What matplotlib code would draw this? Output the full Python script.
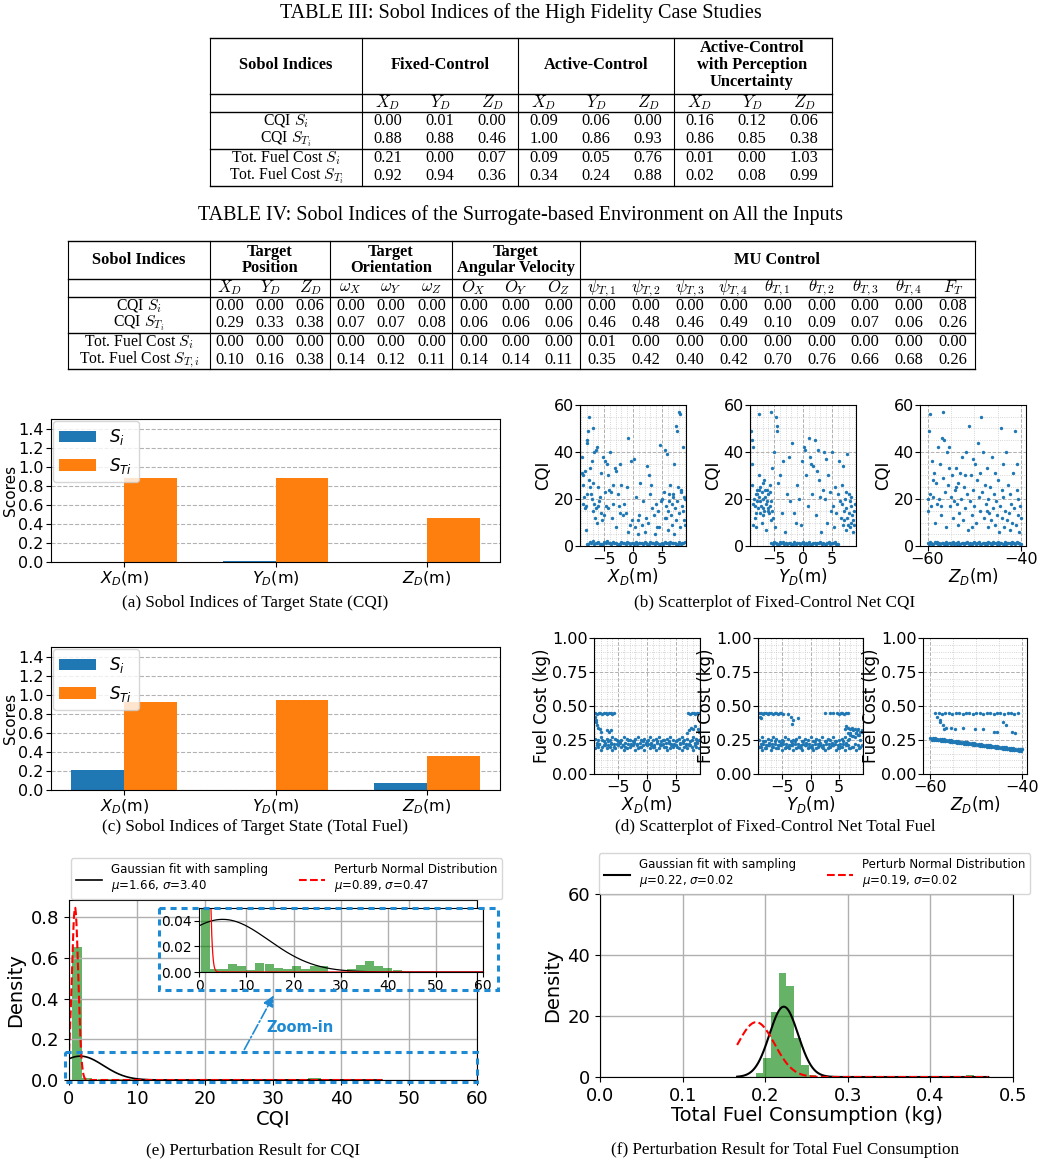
import numpy as np
import matplotlib
matplotlib.use("Agg")
import matplotlib.pyplot as plt
from matplotlib.patches import Rectangle
from matplotlib.ticker import AutoMinorLocator

plt.rcParams['font.family'] = 'DejaVu Sans'
SERIF = 'Liberation Serif'
W, H = 1042, 1165
nan = np.nan

# ---------------- table data ----------------
t3_groups = ['Fixed-Control', 'Active-Control', 'Active-Control\nwith Perception\nUncertainty']
t3_sub = ['$X_D$', '$Y_D$', '$Z_D$'] * 3
t3_rows = ['CQI $S_i$', 'CQI $S_{T_i}$', 'Tot. Fuel Cost $S_i$', 'Tot. Fuel Cost $S_{T_i}$']
t3_vals = [
    [0.00, 0.01, 0.00, 0.09, 0.06, 0.00, 0.16, 0.12, 0.06],
    [0.88, 0.88, 0.46, 1.00, 0.86, 0.93, 0.86, 0.85, 0.38],
    [0.21, 0.00, 0.07, 0.09, 0.05, 0.76, 0.01, 0.00, 1.03],
    [0.92, 0.94, 0.36, 0.34, 0.24, 0.88, 0.02, 0.08, 0.99],
]

t4_groups = ['Target\nPosition', 'Target\nOrientation', 'Target\nAngular Velocity', 'MU Control']
t4_sub = ['$X_D$', '$Y_D$', '$Z_D$', r'$\omega_X$', r'$\omega_Y$', r'$\omega_Z$',
          '$O_X$', '$O_Y$', '$O_Z$',
          r'$\psi_{T,1}$', r'$\psi_{T,2}$', r'$\psi_{T,3}$', r'$\psi_{T,4}$',
          r'$\theta_{T,1}$', r'$\theta_{T,2}$', r'$\theta_{T,3}$', r'$\theta_{T,4}$', '$F_T$']
t4_rows = ['CQI $S_i$', 'CQI $S_{T_i}$', 'Tot. Fuel Cost $S_i$', 'Tot. Fuel Cost $S_{T,i}$']
t4_vals = [
    [0.00, 0.00, 0.06, 0.00, 0.00, 0.00, 0.00, 0.00, 0.00, 0.00, 0.00, 0.00, 0.00, 0.00, 0.00, 0.00, 0.00, 0.08],
    [0.29, 0.33, 0.38, 0.07, 0.07, 0.08, 0.06, 0.06, 0.06, 0.46, 0.48, 0.46, 0.49, 0.10, 0.09, 0.07, 0.06, 0.26],
    [0.00, 0.00, 0.00, 0.00, 0.00, 0.00, 0.00, 0.00, 0.00, 0.01, 0.00, 0.00, 0.00, 0.00, 0.00, 0.00, 0.00, 0.00],
    [0.10, 0.16, 0.38, 0.14, 0.12, 0.11, 0.14, 0.14, 0.11, 0.35, 0.42, 0.40, 0.42, 0.70, 0.76, 0.66, 0.68, 0.26],
]

# ---------------- bar chart data ----------------
state_labels = ['$X_D$(m)', '$Y_D$(m)', '$Z_D$(m)']
cqi_si = [0.00, 0.01, 0.00]
cqi_sti = [0.88, 0.88, 0.46]
fuel_si = [0.21, 0.00, 0.07]
fuel_sti = [0.92, 0.94, 0.36]

# ---------------- scatter data ----------------
# sampled positions used by the dense bands
GX_A = [-9.0, -8.5, -8.0, -7.5, -7.0, -6.5, -6.0, -5.5, -5.0, -4.5, -4.0, -3.5, -3.0, -2.5, -2.0, -1.5, -1.0, -0.5,
        0.0, 0.5, 1.0, 1.5, 2.0, 2.5, 3.0, 3.5, 4.0, 4.5, 5.0, 5.5, 6.0, 6.5, 7.0, 7.5, 8.0, 8.5, 9.0]
GX_B = [-8.75, -8.25, -7.75, -7.25, -6.75, -6.25, -5.75, -5.25, -4.75, -4.25, -3.75, -3.25, -2.75, -2.25, -1.75, -1.25,
        -0.75, -0.25, 0.25, 0.75, 1.25, 1.75, 2.25, 2.75, 3.25, 3.75, 4.25, 4.75, 5.25, 5.75, 6.25, 6.75, 7.25, 7.75,
        8.25, 8.75]
GZ_A = [-60.0, -59.5, -59.0, -58.5, -58.0, -57.5, -57.0, -56.5, -56.0, -55.5, -55.0, -54.5, -54.0, -53.5, -53.0, -52.5,
        -52.0, -51.5, -51.0, -50.5, -50.0, -49.5, -49.0, -48.5, -48.0, -47.5, -47.0, -46.5, -46.0, -45.5, -45.0, -44.5,
        -44.0, -43.5, -43.0, -42.5, -42.0, -41.5, -41.0, -40.5, -40.0]
GZ_B = [-59.75, -59.25, -58.75, -58.25, -57.75, -57.25, -56.75, -56.25, -55.75, -55.25, -54.75, -54.25, -53.75, -53.25,
        -52.75, -52.25, -51.75, -51.25, -50.75, -50.25, -49.75, -49.25, -48.75, -48.25, -47.75, -47.25, -46.75, -46.25,
        -45.75, -45.25, -44.75, -44.25, -43.75, -43.25, -42.75, -42.25, -41.75, -41.25, -40.75, -40.25]

# (b) CQI vs X_D
cqi_x_pts = [(-8.9, 38), (-8.8, 31), (-8.7, 18), (-8.6, 30), (-8.5, 21), (-8.4, 32), (-8.3, 16), (-8.2, 7), (-8.1, 17),
             (-8.0, 45), (-7.9, 44), (-7.8, 49), (-7.7, 55), (-7.6, 28), (-7.5, 25), (-7.4, 33), (-7.3, 22), (-7.2, 36),
             (-7.1, 20), (-7.0, 50), (-6.9, 15), (-6.8, 40), (-6.7, 18), (-6.6, 12), (-6.5, 41), (-6.4, 16), (-6.3, 10),
             (-6.2, 42), (-6.1, 17), (-6.0, 25), (-5.8, 21), (-5.6, 14), (-5.5, 31), (-5.3, 11), (-5.2, 38), (-5.0, 13),
             (-4.9, 36), (-4.7, 17), (-4.6, 35), (-4.4, 16), (-4.3, 30), (-4.1, 24), (-4.0, 40), (-3.8, 23), (-3.6, 12),
             (-3.5, 18), (-3.2, 33), (-3.0, 8), (-2.9, 32), (-2.6, 22), (-2.5, 17), (-2.3, 35), (-2.0, 26), (-1.8, 13),
             (-1.5, 18), (-1.3, 14), (-1.1, 25), (-0.8, 46), (-0.5, 9), (-0.3, 36), (-0.1, 11), (0.2, 37), (0.4, 8),
             (0.6, 21), (0.9, 11), (1.1, 13), (1.3, 27), (1.6, 9), (1.8, 19), (2.0, 6), (2.2, 12), (2.4, 34), (2.7, 30),
             (2.9, 22), (3.1, 26), (3.3, 16), (3.6, 13), (3.8, 5), (4.0, 18), (4.3, 15), (4.5, 8), (4.7, 43), (4.9, 19),
             (5.1, 20), (5.3, 23), (5.5, 41), (5.7, 12), (5.9, 39), (6.1, 15), (6.3, 22), (6.5, 26), (6.7, 18), (6.9, 21),
             (7.1, 35), (7.3, 16), (7.5, 51), (7.7, 49), (7.8, 25), (7.9, 57), (8.1, 56), (8.3, 23), (8.5, 17), (8.6, 42),
             (8.8, 21), (8.9, 11), (9.0, 20), (-8.7, 26), (-7.9, 22), (-6.9, 27), (-5.9, 19), (-4.8, 23), (-3.4, 26),
             (-2.2, 14), (-0.9, 6), (0.8, 5), (2.6, 10), (4.2, 8), (5.6, 12), (6.8, 9), (8.2, 8), (5.8, 17), (6.2, 19),
             (6.6, 13), (7.0, 22), (7.4, 11), (7.6, 19), (8.0, 14), (8.4, 24), (8.7, 15), (9.0, 9), (6.0, 7), (7.2, 5)]
cqi_x_band_a = [nan, nan, 1.0, 1.6, 2.0, 1.2, 1.8, 1.0, 1.5, 2.0, 1.1, 1.7, 1.3, 0.9, 1.6, 1.2, 1.9, 1.0, 1.4, 1.7,
                1.1, 1.3, 1.8, 0.9, 1.5, 1.2, 1.7, 1.0, 1.4, 1.9, 1.1, 1.6, 1.2, 1.0, 1.7, 1.3, 1.5]
cqi_x_band_b = [nan, nan, 0.9, 1.3, 0.8, 1.2, 1.0, 0.8, 1.3, 1.1, 0.8, 1.4, 1.0, 0.9, 1.2, 0.8, 1.1, 1.3,
                0.9, 0.8, 1.2, 1.0, 1.4, 0.8, 1.1, 0.9, 1.3, 1.0, 0.8, 1.2, 0.9, 1.1, 1.4, 0.8, 1.0, 1.2]

# (b) CQI vs Y_D
cqi_y_pts = [(-9.0, 49), (-8.9, 26), (-8.8, 45), (-8.7, 18), (-8.6, 42), (-8.5, 20), (-8.4, 12), (-8.3, 17), (-8.2, 22),
             (-8.1, 8), (-8.0, 19), (-7.9, 22), (-7.8, 16), (-7.7, 21), (-7.6, 30), (-7.5, 14), (-7.4, 25), (-7.3, 17),
             (-7.2, 10), (-7.1, 23), (-7.0, 13), (-6.9, 20), (-6.8, 28), (-6.7, 15), (-6.6, 24), (-6.5, 18), (-6.4, 7),
             (-6.3, 19), (-6.2, 24), (-6.1, 16), (-7.6, 56), (-5.6, 57), (-4.7, 55), (-6.0, 22), (-5.9, 14), (-5.8, 17),
             (-5.7, 26), (-5.6, 11), (-5.5, 19), (-5.4, 33), (-5.3, 15), (-5.0, 40), (-4.8, 8), (-4.6, 51), (-4.5, 49),
             (-4.3, 27), (-4.0, 30), (-3.7, 14), (-3.4, 36), (-3.1, 6), (-2.8, 22), (-2.5, 38), (-2.2, 19), (-1.9, 44),
             (-1.6, 14), (-1.3, 10), (-1.0, 26), (-0.7, 20), (-0.4, 9), (-0.1, 36), (0.2, 42), (0.4, 41), (0.6, 30),
             (0.8, 17), (1.0, 46), (1.2, 38), (1.4, 35), (1.6, 22), (1.8, 34), (2.0, 45), (2.2, 13), (2.4, 32), (2.6, 41),
             (2.8, 28), (3.0, 21), (3.2, 6), (3.4, 24), (3.6, 40), (3.8, 20), (4.0, 37), (4.2, 10), (4.4, 30), (4.6, 23),
             (4.8, 15), (5.0, 40), (5.2, 17), (5.4, 8), (5.6, 25), (5.8, 14), (6.0, 22), (6.2, 36), (6.4, 19), (6.6, 12),
             (6.7, 26), (6.8, 18), (6.9, 9), (7.0, 34), (7.1, 15), (7.2, 11), (7.3, 20), (7.4, 7), (7.5, 16), (7.6, 39),
             (7.7, 12), (7.8, 9), (7.9, 22), (8.0, 14), (8.1, 8), (8.2, 19), (8.3, 10), (8.4, 17), (8.5, 13), (8.6, 6),
             (8.7, 11), (8.8, 15), (8.9, 9), (9.0, 18), (-8.8, 35), (-7.6, 24), (-6.9, 27), (-5.2, 12), (7.5, 23),
             (8.3, 21), (-8.6, 9), (-8.0, 24), (-7.4, 19), (-7.0, 16), (-6.6, 21), (-6.0, 15), (-5.8, 23), (-8.2, 14)]
cqi_y_band_a = [nan, nan, nan, nan, nan, nan, nan, 1.2, 1.8, 1.0, 1.5, 1.9, 1.1, 1.4, 0.9, 1.7, 1.2, 1.0, 1.6, 1.3,
                1.8, 1.0, 1.4, 1.1, 1.7, 1.2, 0.9, 1.5, 1.3, 1.9, 1.0, nan, nan, nan, nan, nan, nan]
cqi_y_band_b = [nan, nan, nan, nan, nan, nan, nan, 0.8, 1.1, 0.9, 1.3, 0.8, 1.0, 1.2, 0.9, 0.8, 1.3, 1.1, 0.8, 1.0,
                0.9, 1.2, 0.8, 1.3, 0.9, 1.0, 1.2, 0.8, 1.1, 0.9, nan, nan, nan, nan, nan, nan]

# (b) CQI vs Z_D
cqi_z_pts = [(-60.0, 15), (-59.8, 20), (-59.6, 49), (-59.5, 56), (-59.4, 22), (-59.2, 17), (-59.0, 36), (-58.8, 21),
             (-58.6, 31), (-58.4, 10), (-58.2, 27), (-58.0, 18), (-57.8, 42), (-57.6, 20), (-57.4, 35), (-57.2, 13),
             (-57.0, 46), (-56.8, 29), (-56.6, 57), (-56.4, 45), (-56.2, 23), (-56.0, 8), (-55.8, 40), (-55.6, 26),
             (-55.4, 42), (-55.2, 17), (-55.0, 21), (-54.8, 30), (-54.6, 12), (-54.4, 19), (-54.2, 24), (-54.0, 33),
             (-53.8, 18), (-53.6, 9), (-53.4, 27), (-53.2, 14), (-53.0, 31), (-52.8, 20), (-52.6, 38), (-52.4, 11),
             (-52.2, 25), (-52.0, 16), (-51.8, 40), (-51.6, 22), (-51.4, 7), (-51.2, 51), (-51.0, 19), (-50.8, 30),
             (-50.6, 13), (-50.4, 37), (-50.2, 24), (-50.0, 17), (-49.8, 35), (-49.6, 10), (-49.4, 28), (-49.2, 44),
             (-49.0, 21), (-48.8, 15), (-48.6, 55), (-48.4, 23), (-48.2, 40), (-48.0, 12), (-47.8, 26), (-47.6, 18),
             (-47.4, 33), (-47.2, 8), (-47.0, 20), (-46.8, 14), (-46.6, 25), (-46.4, 11), (-46.2, 38), (-46.0, 16),
             (-45.8, 22), (-45.6, 9), (-45.4, 19), (-45.2, 13), (-45.0, 28), (-44.8, 6), (-44.6, 17), (-44.4, 50),
             (-44.2, 12), (-44.0, 35), (-43.8, 21), (-43.6, 8), (-43.4, 15), (-43.2, 40), (-43.0, 11), (-42.8, 26),
             (-42.6, 14), (-42.4, 7), (-42.2, 18), (-42.0, 10), (-41.8, 31), (-41.6, 16), (-41.4, 49), (-41.2, 9),
             (-41.0, 24), (-40.8, 13), (-40.6, 20), (-40.4, 6), (-40.2, 17), (-40.0, 12), (-58.9, 28), (-57.1, 17),
             (-55.5, 33), (-53.9, 25), (-52.1, 30), (-50.5, 8), (-48.9, 31), (-47.3, 15), (-45.7, 31), (-44.1, 24),
             (-42.5, 22), (-40.9, 35)]
cqi_z_band_a = [1.2, 1.8, 1.0, 1.5, 1.9, 1.1, 1.4, 0.9, 1.7, 1.2, 1.0, 1.6, 1.3, 1.8, 1.0, 1.4, 1.1, 1.7, 1.2, 0.9,
                1.5, 1.3, 1.9, 1.0, 1.4, 1.2, 1.7, 1.0, 1.5, 1.1, 1.8, 1.3, 1.0, 1.6, 1.2, 1.4, 1.9, 1.1, 1.5, 1.3, 1.0]
cqi_z_band_b = [0.8, 1.1, 0.9, 1.3, 0.8, 1.0, 1.2, 0.9, 0.8, 1.3, 1.1, 0.8, 1.0, 0.9, 1.2, 0.8, 1.3, 0.9, 1.0, 1.2,
                0.8, 1.1, 0.9, 1.3, 0.8, 1.0, 1.1, 0.9, 1.2, 0.8, 1.0, 1.3, 0.9, 0.8, 1.1, 1.0, 1.2, 0.9, 1.1, 0.8]

# (d) fuel vs X_D
fuel_x_pts = [(-9.0, 0.45), (-8.7, 0.44), (-8.4, 0.45), (-8.1, 0.45), (-7.8, 0.44), (-7.5, 0.45), (-7.2, 0.45),
              (-6.9, 0.44), (-6.6, 0.45), (-6.3, 0.45), (-6.0, 0.44), (-5.7, 0.45), (7.2, 0.45), (7.5, 0.44),
              (7.8, 0.45), (8.1, 0.45), (8.4, 0.44), (8.7, 0.45), (9.0, 0.45), (-9.0, 0.42), (-8.9, 0.40),
              (-8.8, 0.38), (-8.7, 0.36), (-8.5, 0.34), (-8.2, 0.33), (-7.9, 0.31), (-7.0, 0.32), (-6.6, 0.31),
              (-6.3, 0.32), (7.0, 0.30), (7.3, 0.32), (7.6, 0.34), (8.0, 0.33), (8.4, 0.35), (8.8, 0.33), (9.0, 0.31)]
fuel_x_band_a1 = [0.19, 0.20, 0.18, 0.21, 0.19, 0.20, 0.18, 0.19, 0.21, 0.20, 0.18, 0.19, 0.20, 0.21, 0.18, 0.19,
                  0.20, 0.18, 0.21, 0.19, 0.20, 0.18, 0.19, 0.21, 0.20, 0.18, 0.19, 0.20, 0.21, 0.19, 0.18, 0.20,
                  0.19, 0.21, 0.18, 0.20, 0.19]
fuel_x_band_b1 = [0.23, 0.22, 0.25, 0.21, 0.24, 0.23, 0.22, 0.25, 0.24, 0.21, 0.23, 0.25, 0.22, 0.24, 0.21, 0.23,
                  0.24, 0.22, 0.25, 0.23, 0.21, 0.24, 0.22, 0.25, 0.23, 0.24, 0.21, 0.22, 0.25, 0.23, 0.24, 0.22,
                  0.21, 0.25, 0.23, 0.24]
fuel_x_band_a2 = [0.26, 0.25, 0.27, 0.24, 0.26, 0.25, 0.27, 0.26, 0.24, 0.25, 0.27, 0.26, 0.25, 0.24, 0.26, 0.27,
                  0.25, 0.26, 0.24, 0.27, 0.25, 0.26, 0.27, 0.24, 0.25, 0.26, 0.27, 0.25, 0.24, 0.26, 0.27, 0.25,
                  0.26, 0.24, 0.27, 0.26, 0.25]
fuel_x_band_b2 = [0.21, 0.22, 0.20, 0.23, 0.21, 0.22, 0.20, 0.22, 0.23, 0.21, 0.20, 0.22, 0.21, 0.23, 0.22, 0.20,
                  0.21, 0.23, 0.22, 0.21, 0.20, 0.23, 0.21, 0.22, 0.20, 0.23, 0.22, 0.21, 0.20, 0.22, 0.23, 0.21,
                  0.22, 0.20, 0.21, 0.23]

# (d) fuel vs Y_D
fuel_y_pts = [(-9.0, 0.45), (-8.7, 0.45), (-8.4, 0.44), (-8.1, 0.45), (-7.8, 0.45), (-7.5, 0.44), (-7.2, 0.45),
              (-6.9, 0.45), (-6.6, 0.44), (-6.3, 0.45), (-6.0, 0.45), (-5.7, 0.44), (-5.4, 0.45), (-5.1, 0.45),
              (-4.8, 0.44), (2.6, 0.45), (3.4, 0.45), (4.0, 0.45), (4.6, 0.45), (5.0, 0.44), (5.3, 0.45), (5.6, 0.45),
              (5.9, 0.44), (6.2, 0.45), (6.5, 0.45), (-8.9, 0.42), (-8.7, 0.41), (-4.0, 0.44), (-3.5, 0.42),
              (-3.0, 0.40), (-2.2, 0.41), (-3.3, 0.37), (6.0, 0.33), (6.3, 0.35), (6.6, 0.34), (6.9, 0.33),
              (7.2, 0.34), (7.5, 0.32), (7.8, 0.33), (8.1, 0.32), (8.4, 0.33), (8.7, 0.31), (9.0, 0.32), (6.5, 0.30),
              (7.0, 0.29), (8.0, 0.30)]
fuel_y_band_a1 = [0.20, 0.18, 0.19, 0.21, 0.18, 0.20, 0.19, 0.21, 0.18, 0.19, 0.20, 0.21, 0.18, 0.19, 0.20, 0.18,
                  0.21, 0.19, 0.20, 0.18, 0.19, 0.21, 0.20, 0.18, 0.19, 0.20, 0.21, 0.18, 0.19, 0.20, 0.18, 0.21,
                  0.19, 0.20, 0.18, 0.19, 0.21]
fuel_y_band_b1 = [0.22, 0.24, 0.21, 0.23, 0.22, 0.24, 0.21, 0.23, 0.24, 0.22, 0.21, 0.23, 0.24, 0.22, 0.21, 0.24,
                  0.23, 0.22, 0.21, 0.24, 0.22, 0.23, 0.21, 0.24, 0.22, 0.23, 0.24, 0.21, 0.22, 0.24, 0.23, 0.26,
                  0.28, 0.27, 0.29, 0.25]
fuel_y_band_a2 = [0.25, 0.27, 0.24, 0.26, 0.25, 0.27, 0.26, 0.24, 0.25, 0.27, 0.26, 0.24, 0.25, 0.26, 0.27, 0.24,
                  0.26, 0.25, 0.27, 0.24, 0.26, 0.25, 0.27, 0.24, 0.26, 0.25, 0.27, 0.24, 0.25, 0.26, 0.27, 0.25,
                  0.30, 0.28, 0.30, 0.29, 0.31]
fuel_y_band_b2 = [0.20, 0.22, 0.19, 0.21, 0.20, 0.22, 0.19, 0.21, 0.22, 0.20, 0.19, 0.21, 0.22, 0.20, 0.19, 0.22,
                  0.21, 0.20, 0.19, 0.22, 0.20, 0.21, 0.19, 0.22, 0.20, 0.21, 0.22, 0.19, 0.20, 0.22, 0.21, 0.19,
                  0.20, 0.22, 0.21, 0.20]

# (d) fuel vs Z_D
fuel_z_pts = [(-59.0, 0.45), (-58.2, 0.45), (-57.5, 0.44), (-56.8, 0.45), (-56.0, 0.45), (-55.2, 0.44), (-54.5, 0.45),
              (-53.7, 0.45), (-53.0, 0.44), (-52.2, 0.45), (-51.5, 0.45), (-50.8, 0.44), (-50.0, 0.45), (-49.2, 0.45),
              (-48.5, 0.44), (-47.8, 0.45), (-47.0, 0.45), (-46.2, 0.44), (-45.5, 0.45), (-44.8, 0.45), (-44.0, 0.44),
              (-43.2, 0.45), (-42.5, 0.45), (-41.8, 0.44), (-41.0, 0.45), (-58.5, 0.42), (-58.0, 0.40), (-57.8, 0.38),
              (-57.3, 0.36), (-57.0, 0.33), (-56.5, 0.34), (-55.5, 0.34), (-54.6, 0.33), (-53.0, 0.34), (-50.2, 0.33),
              (-48.5, 0.33), (-46.2, 0.31), (-45.5, 0.31), (-44.2, 0.38), (-43.5, 0.36), (-42.2, 0.31), (-41.5, 0.30)]
fuel_z_band_hi = [0.266, 0.263, 0.262, 0.259, 0.258, 0.255, 0.254, 0.250, 0.249, 0.247, 0.245, 0.242, 0.240, 0.238,
                  0.236, 0.233, 0.232, 0.229, 0.228, 0.225, 0.223, 0.221, 0.219, 0.216, 0.215, 0.212, 0.211, 0.208,
                  0.206, 0.204, 0.202, 0.199, 0.198, 0.196, 0.194, 0.191, 0.189, 0.187, 0.185, 0.182, 0.181]
fuel_z_band_mid = [0.258, 0.256, 0.254, 0.251, 0.249, 0.247, 0.245, 0.243, 0.241, 0.238, 0.236, 0.234, 0.232, 0.230,
                   0.228, 0.225, 0.223, 0.221, 0.219, 0.217, 0.215, 0.213, 0.210, 0.208, 0.206, 0.204, 0.202, 0.200,
                   0.198, 0.195, 0.193, 0.191, 0.189, 0.187, 0.184, 0.182, 0.180, 0.178, 0.176, 0.174]
fuel_z_band_lo = [0.253, 0.252, 0.249, 0.248, 0.245, 0.243, 0.241, 0.239, 0.237, 0.234, 0.233, 0.230, 0.228, 0.226,
                  0.224, 0.221, 0.219, 0.218, 0.215, 0.213, 0.211, 0.209, 0.207, 0.204, 0.202, 0.200, 0.198, 0.196,
                  0.194, 0.191, 0.189, 0.187, 0.185, 0.183, 0.180, 0.178, 0.176, 0.174, 0.172, 0.170]

# ---------------- histogram data ----------------
# (e) main panel: bar left edges / widths / densities
cqi_hist_left = [0.5, 1.95, 4.21, 6.14, 8.07, 10.0, 11.9, 13.9, 15.8, 17.7, 19.6, 21.6, 23.5, 25.4, 31.2, 33.2, 35.1,
                 37.0, 38.9, 40.9]
cqi_hist_width = [1.45, 1.45, 1.93, 1.93, 1.93, 1.9, 2.0, 1.9, 1.9, 1.9, 2.0, 1.9, 1.9, 2.0, 2.0, 1.9, 1.9, 1.9, 2.0,
                  1.9]
cqi_hist_dens = [0.655, 0.012, 0.0027, 0.0063, 0.0046, 0.0014, 0.0068, 0.0063, 0.0035, 0.0027, 0.0046, 0.0020, 0.0044,
                 0.0044, 0.0027, 0.0055, 0.0087, 0.0046, 0.0035, 0.0014]
# (e) inset panel
zoom_hist_left = [0.35, 2.28, 4.21, 6.14, 8.07, 10.0, 11.9, 13.9, 15.8, 17.7, 19.6, 21.6, 23.5, 25.4, 31.2, 33.2,
                  35.1, 37.0, 38.9, 40.9]
zoom_hist_dens = [0.655, 0.0027, 0.0027, 0.0063, 0.0046, 0.0014, 0.0068, 0.0063, 0.0035, 0.0027, 0.0046, 0.0020,
                  0.0044, 0.0044, 0.0027, 0.0055, 0.0087, 0.0046, 0.0035, 0.0014]
zoom_hist_width = 1.93
# (f)
fuel_hist_edges = [0.1887, 0.1979, 0.2070, 0.2162, 0.2253, 0.2345, 0.2437, 0.2528, 0.2620]
fuel_hist_dens = [1.2, 6.3, 21.4, 34.0, 30.0, 12.9, 3.8, 0.8]
fuel_tail_left = [0.4437]
fuel_tail_dens = [0.5]

# fitted normal parameters (legend values / fitted curves)
cqi_fit = (1.66, 3.40)
cqi_pert = (0.89, 0.47)
cqi_zoom_fit = (5.0, 9.7)
cqi_zoom_pert = (0.89, 0.75)
fuel_fit = (0.2225, 0.0173)
fuel_pert = (0.189, 0.0222)
fuel_fit_lbl = (0.22, 0.02)
fuel_pert_lbl = (0.19, 0.02)


def gauss(x, mu, sd):
    return np.exp(-0.5 * ((x - mu) / sd) ** 2) / (sd * np.sqrt(2 * np.pi))


def box(x0, y0, x1, y1):
    # pixel box -> figure fraction rect
    return [x0 / W, 1 - y1 / H, (x1 - x0) / W, (y1 - y0) / H]


fig = plt.figure(figsize=(W / 100, H / 100), dpi=100)

# ---------------- bar charts (a), (c) ----------------
def sobol_bars(ax, si, sti):
    x = np.arange(len(state_labels))
    w = 0.35
    ax.bar(x - w / 2, si, w, color='#1f77b4', label='$S_i$')
    ax.bar(x + w / 2, sti, w, color='#ff7f0e', label='$S_{Ti}$')
    ax.set_xticks(x)
    ax.set_xticklabels(state_labels, fontsize=12)
    ax.set_ylim(0, 1.5)
    ax.set_yticks(np.arange(0, 1.41, 0.2))
    ax.tick_params(labelsize=11.5, pad=2)
    ax.set_ylabel('Scores', fontsize=11, labelpad=0)
    ax.yaxis.grid(True, linestyle='--', color='gray', alpha=0.6)
    ax.set_axisbelow(True)
    ax.legend(loc='upper left', fontsize=12, borderaxespad=0.1, handlelength=2.2)


ax_a = fig.add_axes(box(51, 419, 500, 562))
sobol_bars(ax_a, cqi_si, cqi_sti)
ax_c = fig.add_axes(box(51, 647, 500, 790))
sobol_bars(ax_c, fuel_si, fuel_sti)

# ---------------- scatter panels (b), (d) ----------------
def scatter_panel(ax, sets, xlim, xticks, ylim, yticks, xlabel, ylabel):
    for xs, ys in sets:
        ax.scatter(xs, ys, s=6, color='#1f77b4', linewidths=0)
    ax.set_xlim(*xlim)
    ax.set_ylim(*ylim)
    ax.set_xticks(xticks)
    ax.set_yticks(yticks)
    ax.xaxis.set_minor_locator(AutoMinorLocator())
    ax.yaxis.set_minor_locator(AutoMinorLocator())
    ax.grid(which='major', linestyle='--', color='#b0b0b0', linewidth=0.7)
    ax.grid(which='minor', linestyle=':', color='#c8c8c8', linewidth=0.6)
    ax.tick_params(which='minor', length=0)
    ax.tick_params(labelsize=11.5, pad=1)
    ax.set_axisbelow(True)
    ax.set_xlabel(xlabel, fontsize=12, labelpad=-1)
    ax.set_ylabel(ylabel, fontsize=12, labelpad=1)


def pts(p):
    a = np.array(p)
    return a[:, 0], a[:, 1]


b_boxes = [(580, 405, 686, 546), (750, 405, 856, 546), (920, 405, 1026, 546)]
d_boxes = [(594, 638, 700, 774), (758, 638, 863, 774), (923, 638, 1027, 774)]
xd_lim, xd_ticks = (-9.2, 9.2), [-5, 0, 5]
zd_lim, zd_ticks = (-61.6, -39), [-60, -40]

b_sets = [
    [pts(cqi_x_pts), (GX_A, cqi_x_band_a), (GX_B, cqi_x_band_b)],
    [pts(cqi_y_pts), (GX_A, cqi_y_band_a), (GX_B, cqi_y_band_b)],
    [pts(cqi_z_pts), (GZ_A, cqi_z_band_a), (GZ_B, cqi_z_band_b)],
]
d_sets = [
    [pts(fuel_x_pts), (GX_A, fuel_x_band_a1), (GX_B, fuel_x_band_b1), (GX_A, fuel_x_band_a2), (GX_B, fuel_x_band_b2)],
    [pts(fuel_y_pts), (GX_A, fuel_y_band_a1), (GX_B, fuel_y_band_b1), (GX_A, fuel_y_band_a2), (GX_B, fuel_y_band_b2)],
    [pts(fuel_z_pts), (GZ_A, fuel_z_band_hi), (GZ_B, fuel_z_band_mid), (GZ_B, fuel_z_band_lo)],
]
xlabels = ['$X_D$(m)', '$Y_D$(m)', '$Z_D$(m)']
for i in range(3):
    lim, tk = (zd_lim, zd_ticks) if i == 2 else (xd_lim, xd_ticks)
    axb = fig.add_axes(box(*b_boxes[i]))
    scatter_panel(axb, b_sets[i], lim, tk, (0, 60), [0, 20, 40, 60], xlabels[i], 'CQI')
    axd = fig.add_axes(box(*d_boxes[i]))
    scatter_panel(axd, d_sets[i], lim, tk, (0, 1), [0, 0.25, 0.5, 0.75, 1.0], xlabels[i], 'Fuel Cost (kg)')
    axd.set_yticklabels(['0.00', '0.25', '0.50', '0.75', '1.00'])

# ---------------- (e) CQI perturbation ----------------
ax_e = fig.add_axes(box(69, 900, 477, 1080))
ax_e.bar(cqi_hist_left, cqi_hist_dens, width=cqi_hist_width, align='edge', color='g', alpha=0.6)
xe = np.linspace(0, 46, 500)
ax_e.plot(xe, gauss(xe, *cqi_fit), color='black', lw=1.2,
          label='Gaussian fit with sampling\n$\\mu$=%.2f, $\\sigma$=%.2f' % cqi_fit)
ax_e.plot(xe, gauss(xe, *cqi_pert), color='red', ls='--', lw=1.5,
          label='Perturb Normal Distribution\n$\\mu$=%.2f, $\\sigma$=%.2f' % cqi_pert)
ax_e.set_xlim(0, 60)
ax_e.set_ylim(0, 0.885)
ax_e.set_xticks(range(0, 61, 10))
ax_e.set_yticks([0, 0.2, 0.4, 0.6, 0.8])
ax_e.grid(True, color='#b0b0b0', lw=1)
ax_e.tick_params(labelsize=13)
ax_e.set_xlabel('CQI', fontsize=14, labelpad=1)
ax_e.set_ylabel('Density', fontsize=14)
ax_e.legend(loc='lower left', bbox_to_anchor=(71 / W, 1 - 899 / H), bbox_transform=fig.transFigure,
            ncol=2, fontsize=8.5, columnspacing=2.6, borderaxespad=0, handlelength=2.2)

ax_z = fig.add_axes(box(199, 908, 483, 972))
ax_z.bar(zoom_hist_left, zoom_hist_dens, width=zoom_hist_width, align='edge', color='g', alpha=0.6)
xz = np.linspace(0, 60, 600)
ax_z.plot(xz, gauss(xz, *cqi_zoom_fit), color='black', lw=0.9)
ax_z.plot(xz, gauss(xz, *cqi_zoom_pert), color='red', lw=0.9)
ax_z.set_xlim(0, 60)
ax_z.set_ylim(0, 0.05)
ax_z.set_xticks(range(0, 61, 10))
ax_z.set_yticks([0, 0.02, 0.04])
ax_z.grid(True, color='#b0b0b0', lw=1)
ax_z.set_axisbelow(True)
ax_z.tick_params(labelsize=10, pad=1.5)

# ---------------- (f) fuel perturbation ----------------
ax_f = fig.add_axes(box(600, 894, 1013, 1077))
ax_f.hist(fuel_hist_edges[:-1], bins=fuel_hist_edges, weights=fuel_hist_dens, color='g', alpha=0.6)
ax_f.bar(fuel_tail_left, fuel_tail_dens, width=0.0091, align='edge', color='g', alpha=0.6)
xf = np.linspace(0.166, 0.47, 500)
ax_f.plot(xf, gauss(xf, *fuel_fit), color='black', lw=1.5,
          label='Gaussian fit with sampling\n$\\mu$=%.2f, $\\sigma$=%.2f' % fuel_fit_lbl)
ax_f.plot(xf, gauss(xf, *fuel_pert), color='red', ls='--', lw=1.5,
          label='Perturb Normal Distribution\n$\\mu$=%.2f, $\\sigma$=%.2f' % fuel_pert_lbl)
ax_f.set_xlim(0, 0.5)
ax_f.set_ylim(0, 60)
ax_f.set_yticks([0, 20, 40, 60])
ax_f.grid(True, color='#b0b0b0', lw=1)
ax_f.set_axisbelow(True)
ax_f.tick_params(labelsize=13)
ax_f.set_xlabel('Total Fuel Consumption (kg)', fontsize=14, labelpad=1)
ax_f.set_ylabel('Density', fontsize=14)
ax_f.legend(loc='lower left', bbox_to_anchor=(599 / W, 1 - 894 / H), bbox_transform=fig.transFigure,
            ncol=2, fontsize=8.5, columnspacing=2.6, borderaxespad=0, handlelength=2.2)

# ---------------- overlay: tables, captions, zoom marks ----------------
ov = fig.add_axes([0, 0, 1, 1], zorder=10)
ov.set_xlim(0, W)
ov.set_ylim(H, 0)
ov.axis('off')
ov.patch.set_alpha(0)


def txt(x, y, s, size=12.3, **kw):
    ov.text(x, y, s, ha='center', va='center', family=SERIF, math_fontfamily='cm', fontsize=size, **kw)


def hline(y, x0, x1, lw=0.8):
    ov.plot([x0, x1], [y, y], color='black', lw=lw)


def vline(x, y0, y1, lw=0.8):
    ov.plot([x, x], [y0, y1], color='black', lw=lw)


TITLE, HEAD, BODY = 14.5, 11.8, 11.3

# TABLE III
txt(521, 13, 'TABLE III: Sobol Indices of the High Fidelity Case Studies', size=TITLE)
t3_x0, t3_x1 = 210, 832
t3_div = [362, 518, 674]
t3_lines = [38, 94, 112, 149, 186]
for y in t3_lines:
    hline(y, t3_x0, t3_x1, lw=1.0)
for x in [t3_x0] + t3_div + [t3_x1]:
    vline(x, t3_lines[0], t3_lines[-1])
txt(286, 65, 'Sobol Indices', size=HEAD, fontweight='bold')
for g, name in enumerate(t3_groups):
    txt(t3_div[g] + 78, 65, name, size=HEAD, fontweight='bold', linespacing=1.05)
t3_cols = [t3_div[g] + 26 + 52 * k for g in range(3) for k in range(3)]
for cx, s in zip(t3_cols, t3_sub):
    txt(cx, 103, s, size=12)
for r, ry in enumerate([121, 139, 158, 176]):
    txt(286, ry, t3_rows[r], size=BODY)
    for cx, v in zip(t3_cols, t3_vals[r]):
        txt(cx, ry, '%.2f' % v, size=BODY + 0.5)

# TABLE IV
txt(521, 215, 'TABLE IV: Sobol Indices of the Surrogate-based Environment on All the Inputs', size=TITLE)
t4_x0, t4_x1 = 68, 975
t4_div = [210, 330, 452, 580]
t4_lines = [241, 279, 297, 333, 369]
for y in t4_lines:
    hline(y, t4_x0, t4_x1, lw=1.0)
for x in [t4_x0] + t4_div + [t4_x1]:
    vline(x, t4_lines[0], t4_lines[-1])
txt(139, 260, 'Sobol Indices', size=HEAD, fontweight='bold')
t4_bounds = t4_div + [t4_x1]
for g, name in enumerate(t4_groups):
    txt((t4_bounds[g] + t4_bounds[g + 1]) / 2, 260, name, size=HEAD, fontweight='bold', linespacing=1.05)
t4_cols = []
for g in range(4):
    n = 9 if g == 3 else 3
    step = (t4_bounds[g + 1] - t4_bounds[g]) / n
    t4_cols += [t4_bounds[g] + step * (k + 0.5) for k in range(n)]
for cx, s in zip(t4_cols, t4_sub):
    txt(cx, 288, s, size=12)
for r, ry in enumerate([306, 323, 342, 360]):
    txt(139, ry, t4_rows[r], size=BODY)
    for cx, v in zip(t4_cols, t4_vals[r]):
        txt(cx, ry, '%.2f' % v, size=BODY + 0.5)

# captions
txt(255, 603, '(a) Sobol Indices of Target State (CQI)')
txt(775, 603, '(b) Scatterplot of Fixed-Control Net CQI')
txt(255, 827, '(c) Sobol Indices of Target State (Total Fuel)')
txt(775, 827, '(d) Scatterplot of Fixed-Control Net Total Fuel')
txt(253, 1150, '(e) Perturbation Result for CQI')
txt(785, 1150, '(f) Perturbation Result for Total Fuel Consumption')

# zoom-in marks on (e)
zc = '#1f8ad4'
ov.add_patch(Rectangle((159, 908), 339, 82, fill=False, edgecolor=zc, lw=2.2, ls=(0, (2, 1.6))))
ov.add_patch(Rectangle((65, 1052), 412, 30, fill=False, edgecolor=zc, lw=2.2, ls=(0, (2, 1.6))))
ov.annotate('', xy=(275, 993), xytext=(243, 1052),
            arrowprops=dict(arrowstyle='-|>', color=zc, lw=1.2, ls='-.', mutation_scale=16))
ov.text(300, 1027, 'Zoom-in', color=zc, fontsize=10.5, fontweight='bold', ha='center', va='center')

fig.savefig('out.png', dpi=100)
